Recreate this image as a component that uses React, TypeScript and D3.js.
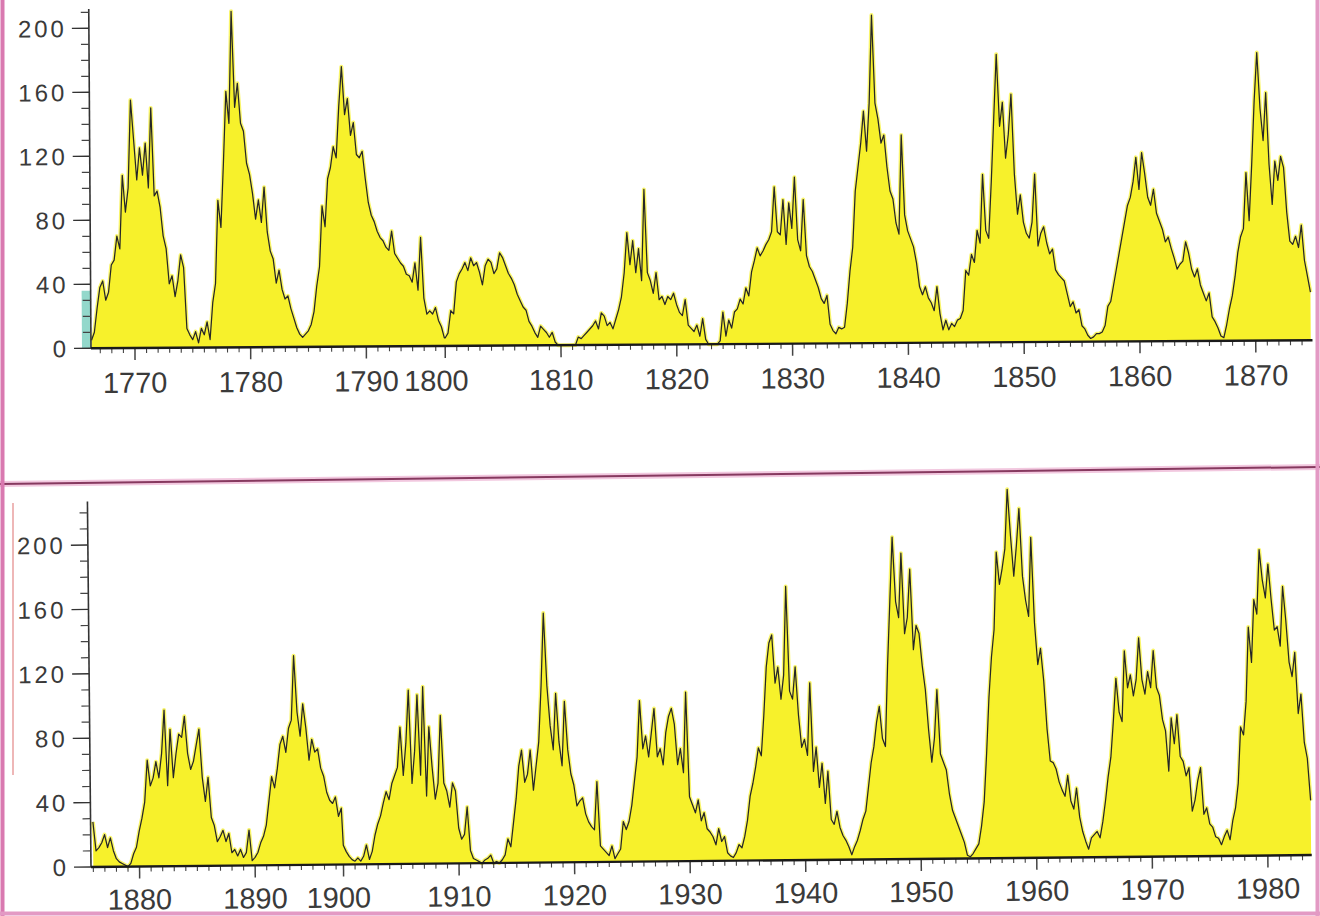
import * as d3 from "d3";

// quarterly sunspot numbers (the paper strip is cut near 1797-1800 and 1898-1900)
const topStartA = 1766.25;
const topValuesA = [
  5, 10, 25,
  38, 42, 30, 35, 52, 55, 70, 62, 108, 85, 100, 155,
  130, 105, 125, 108, 128, 100, 150, 95, 98, 88, 70, 62, 40, 45, 32, 42,
  58, 50, 12, 8, 5, 10, 3, 12, 8, 16, 5, 28, 40, 92, 75, 115,
  160, 140, 210, 150, 165, 140, 135, 115,
  108, 96, 80, 92, 78, 100, 72, 60, 55, 40, 48, 36, 30, 32, 24, 18,
  12, 8, 6, 8, 10, 14, 22, 38, 50, 88, 75, 105, 112, 125, 118, 150,
  175, 145, 155, 132, 140, 120, 118, 122,
  105, 90, 82, 78, 72, 68, 66, 62, 60, 72, 58, 55, 52, 50, 45, 44,
  40, 52, 35, 68, 30, 20, 22, 20, 24, 16, 12, 5,
];

const topStartB = 1800;
const topValuesB = [
  5, 8, 22, 20, 40, 45, 48, 52, 47, 55, 50, 52, 46, 38, 50, 54,
  52, 45, 48, 58, 55, 50, 45, 42, 38, 32, 28, 24, 22, 15, 12, 8,
  5, 12, 10, 8, 5, 8, 2, 0,
  0, 0, 0, 0, 0, 0, 5, 4, 6, 8, 10, 12, 15, 10, 20, 18,
  12, 14, 10, 16, 22, 30, 45, 70, 50, 65, 45, 60, 40, 97, 45, 40,
  32, 45, 28, 30, 25, 30, 28, 32,
  25, 20, 18, 28, 12, 10, 8, 12, 5, 16, 3, 0, 0, 0, 0, 2,
  20, 5, 15, 10, 20, 22, 28, 25, 35, 30, 45, 52, 60, 55, 58, 62,
  65, 70, 98, 70, 68, 90, 62, 88,
  72, 104, 65, 58, 90, 55, 48, 45, 40, 35, 28, 25, 30, 12, 8, 6,
  10, 9, 10, 25, 45, 60, 95, 110, 125, 145, 120, 150, 205, 150, 140, 125,
  130, 110, 95, 90, 75, 68, 130, 80,
  70, 65, 60, 50, 35, 30, 35, 28, 25, 20, 35, 18, 8, 14, 8, 12,
  10, 14, 15, 20, 45, 42, 55, 50, 70, 62, 105, 70, 65, 100, 140, 180,
  135, 150, 115, 130, 155, 105, 80, 92,
  75, 68, 65, 75, 105, 60, 68, 72, 62, 55, 58, 45, 42, 40, 38, 30,
  22, 25, 18, 20, 10, 8, 4, 2, 3, 5, 5, 6, 10, 22, 25, 35,
  45, 55, 65, 75, 85, 90, 100, 115,
  95, 118, 105, 90, 85, 95, 80, 75, 70, 62, 65, 58, 52, 45, 48, 50,
  62, 55, 45, 40, 45, 35, 30, 25, 30, 15, 12, 8, 3, 2, 10, 20,
  28, 40, 55, 65, 70, 105, 75, 110,
  150, 180, 145, 125, 155, 110, 85, 112, 100, 115, 108, 80, 62, 60, 65, 58,
  72, 50, 40, 30,
];

const bottomStartA = 1876;
const bottomValuesA = [
  28, 10, 12, 15, 20, 12, 18, 10, 5, 3, 2, 1, 0, 2, 8, 12,
  22, 30, 40, 66, 50, 55, 65, 55, 70, 97, 50, 85, 55, 70, 82, 80,
  93, 70, 60, 65, 75, 85, 55, 40, 55, 30, 25, 15, 18, 22, 15, 20,
  8, 10, 6, 10, 5, 8, 22, 3,
  5, 8, 14, 18, 25, 40, 55, 48, 60, 75, 80, 70, 85, 90, 130, 95,
  80, 100, 85, 65, 78, 70, 72, 60, 55, 45, 40, 38, 42, 30, 35,
];

const bottomStartB = 1900;
const bottomValuesB = [
  12, 8, 5, 3, 2, 4, 2, 5, 12, 3, 8, 18, 25, 30, 38, 45,
  40, 50, 55, 60, 85, 55, 75, 108, 50, 70, 105, 55, 110, 42, 85, 60,
  40, 50, 92, 50, 45, 35, 50, 45,
  22, 15, 18, 35, 8, 3, 2, 1, 0, 2, 3, 5, 0, 1, 0, 2,
  5, 15, 10, 25, 40, 60, 70, 50, 55, 70, 45, 60, 75, 110, 155, 110,
  85, 70, 105, 75, 60, 100, 70, 55,
  48, 35, 38, 40, 30, 25, 22, 20, 50, 10, 8, 6, 4, 10, 2, 5,
  8, 25, 20, 25, 35, 50, 65, 100, 70, 78, 65, 80, 95, 65, 70, 60,
  80, 90, 95, 85, 60, 70, 55, 105,
  40, 35, 30, 38, 25, 30, 20, 18, 15, 10, 20, 12, 15, 5, 3, 2,
  5, 10, 8, 15, 25, 40, 48, 58, 70, 65, 90, 120, 135, 140, 110, 120,
  100, 115, 170, 105, 100, 120, 90, 70,
  75, 65, 110, 55, 70, 45, 60, 35, 55, 25, 22, 30, 20, 15, 12, 8,
  3, 8, 12, 18, 25, 30, 45, 60, 70, 85, 95, 75, 70, 120, 160, 200,
  160, 150, 190, 140, 150, 180, 130, 145,
  140, 120, 105, 80, 60, 75, 105, 65, 60, 55, 40, 30, 25, 20, 15, 10,
  2, 1, 3, 6, 9, 20, 35, 65, 100, 125, 142, 190, 170, 180, 192, 229,
  200, 175, 194, 217, 175, 160, 150, 199,
  146, 120, 130, 110, 80, 60, 59, 55, 47, 42, 38, 51, 35, 30, 43, 25,
  16, 10, 5, 12, 14, 16, 12, 22, 35, 50, 62, 85, 111, 90, 84, 128,
  105, 113, 100, 110, 136, 110, 101, 115,
  105, 128, 105, 100, 85, 78, 53, 86, 70, 88, 62, 59, 50, 55, 28, 35,
  47, 55, 26, 30, 20, 18, 12, 11, 7, 12, 16, 10, 22, 30, 45, 80,
  75, 96, 142, 120, 159, 150, 190, 171,
  160, 181, 159, 140, 142, 130, 167, 146, 120, 111, 126, 88, 100, 70, 60, 34,
];

const yTickValues = [0, 40, 80, 120, 160, 200];
const topDecades = [1770, 1780, 1790, 1800, 1810, 1820, 1830, 1840, 1850, 1860, 1870];
const bottomDecades = [1880, 1890, 1900, 1910, 1920, 1930, 1940, 1950, 1960, 1970, 1980];

type Pt = { year: number; value: number };
const toPoints = (start: number, values: number[]): Pt[] =>
  values.map((v, i) => ({ year: start + i * 0.25, value: v }));

type PanelProps = {
  points: Pt[];
  xDomain: number[];
  xRange: number[];
  years: number[];
  decades: number[];
  y0: number;
  y200: number;
  axisTopValue: number;
  minorMax: number;
  angle: number;
  labelBaseline: number;
  nudge: Record<number, number>;
  cyan?: boolean;
};

function Panel(p: PanelProps) {
  const x = d3.scaleLinear().domain(p.xDomain).range(p.xRange);
  const y = d3.scaleLinear().domain([0, 200]).range([p.y0, p.y200]);
  const left = p.xRange[0];
  const right = p.xRange[p.xRange.length - 1];

  const area = d3
    .area<Pt>()
    .x((d) => x(d.year))
    .y0(y(0))
    .y1((d) => y(d.value));
  const line = d3
    .line<Pt>()
    .x((d) => x(d.year))
    .y((d) => y(d.value));

  const minors = d3.range(10, p.minorMax + 1, 10).filter((v) => v % 40 !== 0);

  return (
    <g transform={`rotate(${p.angle},${left},${p.y0})`}>
      {p.cyan && <rect x={left - 9} y={y(36)} width={9} height={y(0) - y(36)} fill="#93d8cb" />}
      <path d={area(p.points) ?? ""} fill="#f7f12b" />
      <path d={line(p.points) ?? ""} fill="none" stroke="#f7f12b" strokeWidth={4} strokeLinejoin="round" opacity={0.7} />
      <path d={line(p.points) ?? ""} fill="none" stroke="#262626" strokeWidth={1.25} strokeLinejoin="round" />

      {/* y axis */}
      <line x1={left} x2={left} y1={y(0)} y2={y(p.axisTopValue)} stroke="#333" strokeWidth={1.6} />
      {minors.map((v) => (
        <line key={v} x1={left - 8} x2={left} y1={y(v)} y2={y(v)} stroke="#444" strokeWidth={1.2} />
      ))}
      {yTickValues.map((v) => (
        <g key={v}>
          <line x1={left - 17} x2={left} y1={y(v)} y2={y(v)} stroke="#333" strokeWidth={1.4} />
          <text
            x={left - 22}
            y={y(v)}
            dy="0.36em"
            textAnchor="end"
            fontFamily="'Liberation Sans', Arial, sans-serif"
            fontSize={24}
            letterSpacing={3}
            fill="#3a3a3a"
          >
            {v}
          </text>
        </g>
      ))}

      {/* x axis */}
      {p.years.map((yr) => (
        <line
          key={yr}
          x1={x(yr)}
          x2={x(yr)}
          y1={y(0)}
          y2={y(0) + (yr % 10 === 0 ? 12 : 5)}
          stroke="#444"
          strokeWidth={yr % 10 === 0 ? 1.5 : 1.1}
        />
      ))}
      <line x1={left} x2={right} y1={y(0)} y2={y(0)} stroke="#1a1a1a" strokeWidth={2.4} />
      {p.decades.map((yr) => (
        <text
          key={yr}
          x={x(yr) + (p.nudge[yr] ?? 0)}
          y={p.labelBaseline}
          textAnchor="middle"
          fontFamily="'Liberation Sans', Arial, sans-serif"
          fontSize={29}
          fill="#3a3a3a"
        >
          {yr}
        </text>
      ))}
    </g>
  );
}

export default function App() {
  const W = 1320;
  const H = 916;
  const topPoints = [...toPoints(topStartA, topValuesA), ...toPoints(topStartB, topValuesB)];
  const bottomPoints = [...toPoints(bottomStartA, bottomValuesA), ...toPoints(bottomStartB, bottomValuesB)];
  return (
    <svg
      width={W}
      height={H}
      viewBox={`0 0 ${W} ${H}`}
      style={{ position: "absolute", left: 0, top: 0, background: "#fff" }}
    >
      <rect width={W} height={H} fill="#fff" />

      <Panel
        points={topPoints}
        xDomain={[1766.2, 1796.8, 1800, 1874.9]}
        xRange={[91, 445, 445.2, 1312.5]}
        years={[...d3.range(1767, 1797), ...d3.range(1800, 1875)]}
        decades={topDecades}
        y0={348.3}
        y200={28.3}
        axisTopValue={212}
        minorMax={210}
        angle={-0.38}
        labelBaseline={393}
        nudge={{ 1800: -9 }}
        cyan
      />

      <Panel
        points={bottomPoints}
        xDomain={[1875.8, 1897.6, 1900, 1983.8]}
        xRange={[91, 343, 343.5, 1311.8]}
        years={[...d3.range(1876, 1898), ...d3.range(1900, 1984)]}
        decades={bottomDecades}
        y0={867}
        y200={545}
        axisTopValue={227}
        minorMax={220}
        angle={-0.56}
        labelBaseline={910}
        nudge={{ 1900: -5 }}
      />

      {/* pasted-paper borders */}
      <line x1={13} x2={13} y1={503} y2={775} stroke="#e07878" strokeWidth={1.5} opacity={0.7} />
      <line x1={0} x2={W} y1={484} y2={467} stroke="#eaa4cb" strokeWidth={6} opacity={0.6} />
      <line x1={0} x2={W} y1={484} y2={467} stroke="#86395f" strokeWidth={2} />
      <line x1={2.5} x2={2.5} y1={0} y2={H} stroke="#d979b0" strokeWidth={4} />
      <line x1={1317.5} x2={1317.5} y1={0} y2={H} stroke="#e39ac4" strokeWidth={4} />
      <line x1={0} x2={W} y1={913.5} y2={913.5} stroke="#e39ac4" strokeWidth={4} />
    </svg>
  );
}
